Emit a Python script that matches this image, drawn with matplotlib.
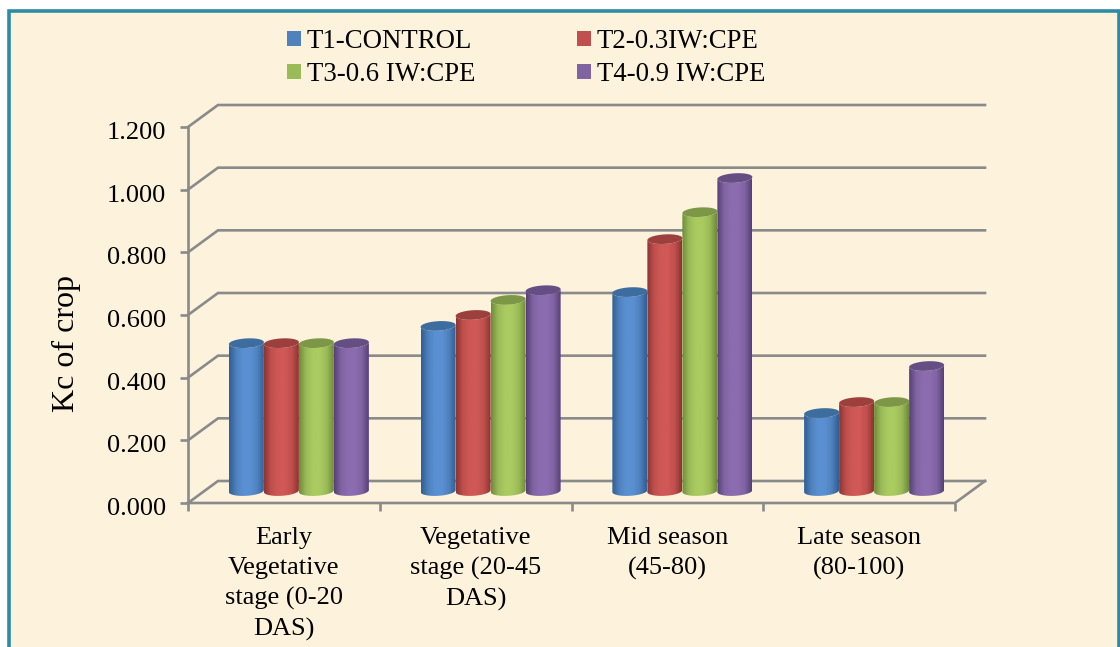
import numpy as np
import matplotlib
matplotlib.use("Agg")
import matplotlib.pyplot as plt
from matplotlib.patches import Polygon, Rectangle
from matplotlib.colors import LinearSegmentedColormap
from matplotlib.transforms import ScaledTranslation

categories = ["Early\nVegetative\nstage (0-20\nDAS)", "Vegetative\nstage (20-45\nDAS)",
              "Mid season\n(45-80)", "Late season\n(80-100)"]
series = ["T1-CONTROL", "T2-0.3IW:CPE", "T3-0.6 IW:CPE", "T4-0.9 IW:CPE"]
t1 = [0.472, 0.527, 0.635, 0.249]
t2 = [0.472, 0.562, 0.804, 0.284]
t3 = [0.472, 0.610, 0.890, 0.284]
t4 = [0.472, 0.641, 0.999, 0.399]
yticks = [0.0, 0.2, 0.4, 0.6, 0.8, 1.0, 1.2]

W, H = 1120, 647
GRAY = "#8a8a8a"
PAPER = "#fdf2dc"
colors = ["#4f81bd", "#c0504d", "#9bbb59", "#8064a2"]
lights = ["#5a90d2", "#d05857", "#aacb60", "#8c6cb0"]
darks = ["#2f5f93", "#8c3533", "#6f8c38", "#574079"]
tops = ["#3d6c9e", "#9c3f3d", "#7c9746", "#644e83"]

plt.rcParams["font.family"] = ["Liberation Serif", "DejaVu Serif"]
fig = plt.figure(figsize=(W / 100, H / 100), dpi=100, facecolor="white")

# parchment panel with teal border, runs off the bottom of the picture
fig.add_artist(Rectangle((8.7 / W, -0.05), (1119 - 8.7) / W, 1.05 - 10.5 / H, transform=fig.transFigure,
                         facecolor=PAPER, edgecolor="#2e8ba5", linewidth=2.6, zorder=-1))

ax = fig.add_axes([188 / W, 1 - 503 / H, (955 - 188) / W, (503 - 127) / H])
ax.patch.set_visible(False)
for s in ax.spines.values():
    s.set_visible(False)

px = 4 / (955 - 188)   # category units per pixel
py = 1.2 / (503 - 127)  # value units per pixel
dx, dy = 30 * px, 22 * py
lw = 1.9

# walls and floor
for v in yticks:
    ax.plot([0, dx, 4 + dx], [v, v + dy, v + dy], color=GRAY, lw=lw, clip_on=False, solid_joinstyle="miter")
ax.plot([0, 0], [0, 1.2], color=GRAY, lw=lw, clip_on=False)
ax.plot([0, 4, 4 + dx], [0, 0, dy], color=GRAY, lw=lw, clip_on=False)

# cylinders, slightly tilted so the ellipses rise to the right
cmaps = [LinearSegmentedColormap.from_list("c", [d, c, l, l, c, d])
         for c, l, d in zip(colors, lights, darks)]
grad = np.linspace(0, 1, 64).reshape(1, -1)
bw = 35 * px
eh = 9.5 * py
tilt = 2 * py
base = dy / 2 + 0.003
n = len(series)
t_low = np.linspace(np.pi, 2 * np.pi, 40)
t_full = np.linspace(0, 2 * np.pi, 80)


def ring(cx, cy, t):
    xs = np.cos(t)
    return np.column_stack([cx + bw / 2 * xs, cy + eh / 2 * np.sin(t) + tilt / 2 * xs])


for j, vals in enumerate([t1, t2, t3, t4]):
    for i, v in enumerate(vals):
        x0 = i + 0.5 + dx / 2 - n * bw / 2 + j * bw
        cx = x0 + bw / 2
        y0, y1 = base, base + v
        outline = np.vstack([ring(cx, y0, t_low), ring(cx, y1, t_low[::-1])])
        clip = Polygon(outline, closed=True, transform=ax.transData, facecolor="none", edgecolor="none")
        ax.add_patch(clip)
        im = ax.imshow(grad, extent=[x0, x0 + bw, y0 - eh, y1 + eh], aspect="auto", cmap=cmaps[j], zorder=3 + j)
        im.set_clip_path(clip)
        ax.add_patch(Polygon(ring(cx, y1, t_full), closed=True, facecolor=tops[j], edgecolor="none", zorder=3.5 + j))

ax.set_xlim(0, 4)
ax.set_ylim(0, 1.2)
ax.set_xticks(range(5))
ax.set_xticklabels([])
ax.set_xticks(np.arange(4) + 0.5, labels=categories, minor=True)
ax.tick_params(axis="x", which="major", length=6, width=lw, color=GRAY)
ax.tick_params(axis="x", which="minor", length=0, pad=17.5, labelsize=19, labelcolor="black")
ax.set_yticks(yticks, [f"{v:.3f}" for v in yticks])
ax.tick_params(axis="y", length=6, width=lw, color=GRAY, labelsize=19, pad=10)
# tick labels sit a little under their ticks in the original
shift = ScaledTranslation(0, -3.5 / 100, fig.dpi_scale_trans)
for lab in ax.get_yticklabels():
    lab.set_transform(lab.get_transform() + shift)
for lab in ax.get_xticklabels(minor=True):
    lab.set_linespacing(1.45)
ax.set_ylabel("Kc of crop", fontsize=23, labelpad=18, y=0.4255)

handles = [Rectangle((0, 0), 1, 1, facecolor=c) for c in colors]
order = [0, 2, 1, 3]
fig.legend([handles[i] for i in order], [series[i] for i in order], ncols=2, frameon=False,
           loc="upper left", bbox_to_anchor=(287 / W, 1 - 29 / H), fontsize=19.3,
           handlelength=0.52, handleheight=0.52, handletextpad=0.22, columnspacing=3.8,
           labelspacing=0.3, borderpad=0, borderaxespad=0)

fig.savefig("out.png", dpi=100)
